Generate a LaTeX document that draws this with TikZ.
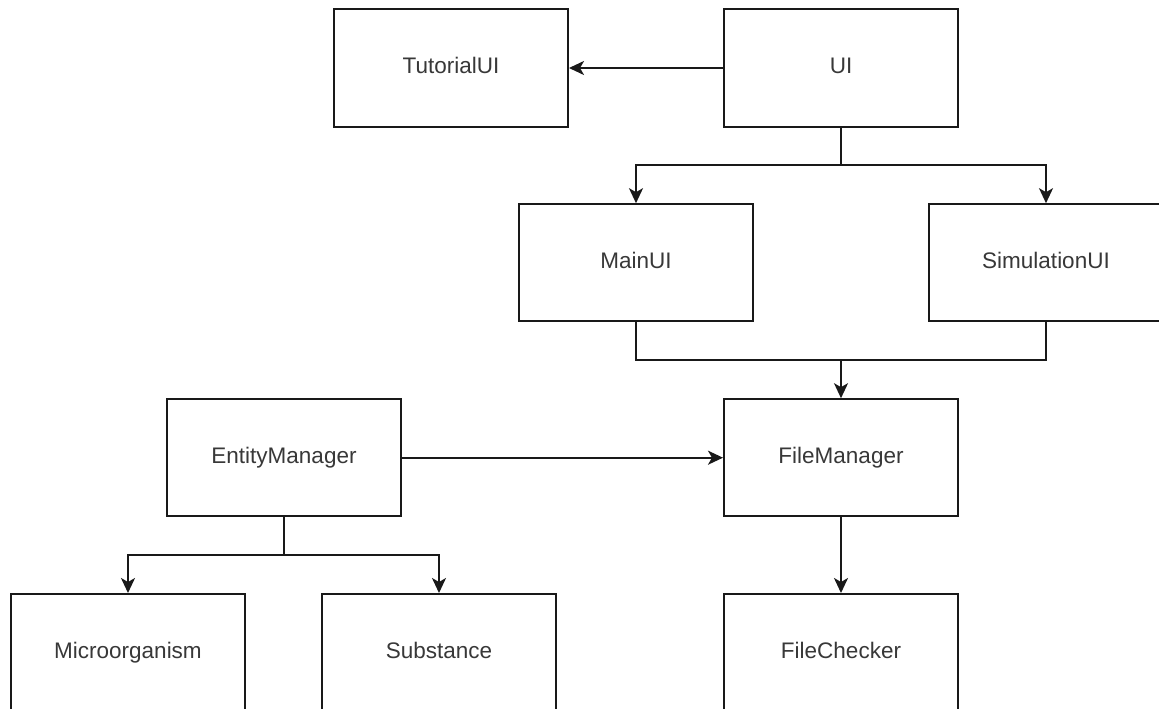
\documentclass[tikz,border=0pt]{standalone}
\usepackage{fontspec}
\setmainfont{Liberation Sans}
\usetikzlibrary{arrows.meta}
\begin{document}
\begin{tikzpicture}[x=1pt,y=-1pt,
  box/.style={draw=black!90, line width=2pt, fill=white, minimum width=234pt, minimum height=117pt,
    inner sep=0pt, text height=16pt, text depth=4.5pt, text=black!78,
    font=\fontsize{22.5}{27}\selectfont},
  link/.style={draw=black!90, line width=2pt},
  arr/.style={link, -{Stealth[length=15pt, width=14pt, inset=4pt]}}]
  \useasboundingbox (0,0) rectangle (1159,709);
  \clip (0,0) rectangle (1159,709);
  \fill[white] (0,0) rectangle (1159,709);

  % class boxes
  \node[box] (tut)   at (451,68)    {TutorialUI};
  \node[box] (ui)    at (841,68)    {UI};
  \node[box] (main)  at (636,262.7) {MainUI};
  \node[box] (sim)   at (1046,262.7){SimulationUI};
  \node[box] (em)    at (284,457.7) {EntityManager};
  \node[box] (fm)    at (841,457.7) {FileManager};
  \node[box] (micro) at (128,652.5) {Microorganism};
  \node[box] (sub)   at (439,652.5) {Substance};
  \node[box] (fc)    at (841,652.5) {FileChecker};

  % junction points of the orthogonal connectors
  \coordinate (j1) at (841,165);
  \coordinate (j2) at (841,360);
  \coordinate (j3) at (284,555);

  \draw[arr] (ui.west) -- (tut.east);

  \draw[link] (ui.south) -- (j1);
  \draw[arr] (j1) -| (main.north);
  \draw[arr] (j1) -| (sim.north);

  \draw[link] (main.south) |- (j2);
  \draw[link] (sim.south) |- (j2);
  \draw[arr] (j2) -- (fm.north);

  \draw[arr] (em.east) -- (fm.west);

  \draw[link] (em.south) -- (j3);
  \draw[arr] (j3) -| (micro.north);
  \draw[arr] (j3) -| (sub.north);

  \draw[arr] (fm.south) -- (fc.north);
\end{tikzpicture}
\end{document}
